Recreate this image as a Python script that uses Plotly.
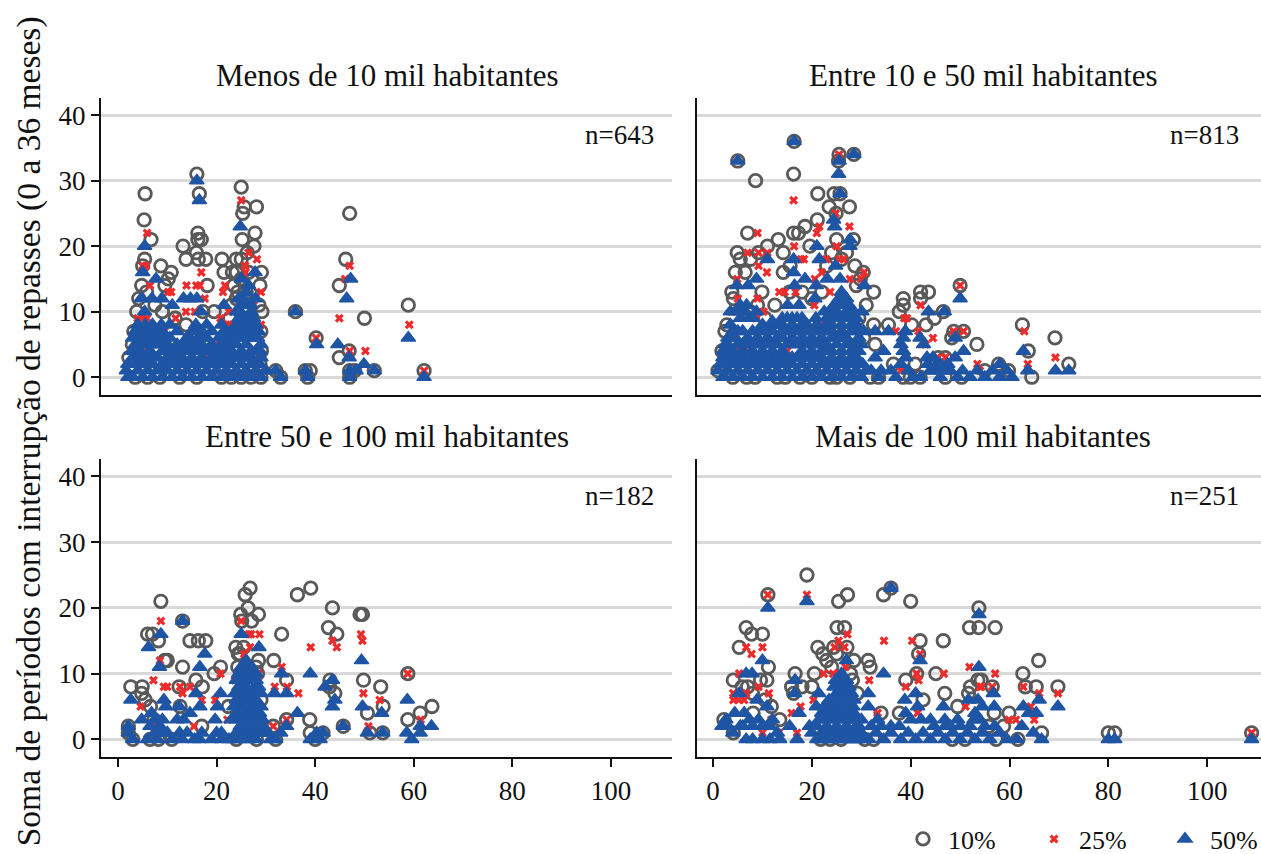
import plotly.graph_objects as go

SERIES = ["10%", "25%", "50%"]
PANEL_TITLES = ["Menos de 10 mil habitantes", "Entre 10 e 50 mil habitantes",
                "Entre 50 e 100 mil habitantes", "Mais de 100 mil habitantes"]
PANEL_N = ["n=643", "n=813", "n=182", "n=251"]
X_TICKS = [0, 20, 40, 60, 80, 100]
Y_TICKS = [0, 10, 20, 30, 40]

# Panel A: under 10 thousand
a10 = [(16,31),(16.5,28),(25,29),(28.1,26),(25.6,26),(25.3,25),(5.5,28),(5.3,24),(6.7,21),(16.2,22),(16.2,21),(16.9,21),
       (13.2,20),(13.8,18),(15.9,19),(16.3,18),(17.8,18),(8.7,17),(10.8,16),(10.2,15),(9.5,14),(18.1,14),(21.1,18),(21.5,16),
       (23.2,16),(24,16),(24,18),(25,18),(25.2,21),(27.8,22),(27.6,20),(26.2,19),(29.1,16),(28.8,14),(5.4,18),(5,17),(4.8,14),
       (4.2,12),(3.8,10),(3.2,7),(2.9,5),(2.2,3),(36,10),(40.2,6),(44.9,3),(46.9,4),(46.2,18),(44.9,14),(47,25),(50,9),(58.9,11),
       (62.1,1),(52,1),(48,1),(47,1),(47,0),(38,1),(39,1),(38.5,0),(32,1),(33,0),(5.8,13),(7.5,11),(9,10),(11.6,9),(13.8,8),
       (17.2,10),(19.5,10),(22.7,9),(24.3,13),(25,15),(26.5,16),(28.6,11),(29.2,10),(29,7),(29.1,4),(28.8,2),(3.5,0),(6,0),(8.5,0),
       (12.5,0),(16,0),(21,0),(23,0),(25,0),(27,0),(29,0),(24,12),(23.5,14),(23,11),(26,13)]
a25 = [(5.9,22),(25,27),(26.5,19),(25.8,17),(28.2,18),(25.9,16),(16.9,16),(13.9,14),(15.9,14),(16.6,14),(21.7,14),(21.3,13),
       (6.5,14),(5,17),(5.7,17),(10.8,13),(10.2,13),(17.6,12),(13.8,10),(11.7,9),(4,9),(5,9),(5.9,9),(20.8,9),(21.9,8),(22.4,8),
       (29,8),(29,13),(27.5,11),(22.5,10),(15.6,10),(8.7,7),(9.4,7),(19.8,5),(6.2,4),(47,17),(46.1,15),(44.9,9),(50.2,4),(47,4),
       (59.1,8),(62.1,1),(40.2,6),(12,2),(18,3),(14,6),(20.2,4)]
a50 = [(16,30),(16.5,27),(24.8,23),(5.4,20),(5,16),(7.7,15),(4.7,12),(6.9,12),(8.9,12),(11,11),(13.3,12),(14.7,12),(16,12),
       (25,15),(27.8,16),(26.5,14),(27.9,12),(21.5,11),(16.8,10),(5.4,10),(36,10),(46.4,12),(47.2,15),(44.6,5),(40.3,5),(58.9,6),
       (46.9,3),(49.9,2),(52,1),(48.3,1),(47,1),(47,0),(62.1,0),(38,1),(38.5,0),(32,1),(33,0),
       (4,8),(5.5,8),(7,8),(8.8,8),(10.5,8),(15.8,8),(18,8),(21,8),(24.5,12),(26,11),(24.8,10),(27,10),(25.5,9),(28,8),
       (3,6),(5,6),(7,6),(9.5,6),(12,7),(14,6),(16.3,6),(18,6),(20.5,6),(22,6),(24,8),(26,7),(28.3,6),
       (2.8,4),(4.5,4),(6.5,4),(8.2,5),(10,5),(12,5),(14,4),(16,4),(18,4),(20,4),(22,4),(24,5),(26,5),(28,4),(29,5),
       (2,2),(4,2),(6,2),(8,3),(10,3),(12,3),(14,2),(16,2),(18,2),(20,2),(22,2),(24,3),(26,3),(28,2),(29,3),
       (1.7,1),(3,0),(5,0),(7,0),(9,0),(11,0),(13,0),(15,0),(17,0),(19,0),(21,0),(23,0),(25,0),(27,0),(29,0),(30,1),(2,0),
       (3.5,7),(4.7,7),(6,7),(7.5,7),(9,7),(10.5,6),(15,7),(17,7),(19,7),(21.5,7),(23,7),(25,7),(27,7),(28.5,7),
       (3.5,5),(5.5,5),(7.5,5),(9,4),(11,4),(13,5),(15,5),(17,5),(19,5),(21,5),(23,5),(25,6),(27,6),(28.8,4),
       (3,3),(5,3),(7,3),(9,2),(11,2),(13,3),(15,3),(17,3),(19,3),(21,3),(23,3),(25,4),(27,4),(28.7,2),
       (4,1),(6,1),(8,1),(10,1),(12,1),(14,1),(16,1),(18,1),(20,1),(22,1),(24,1),(26,1),(28,1),
       (24,10),(25,11),(27,11),(25.5,12),(26,13),(24.5,9),(26.5,9),(27.5,9),
       (4.5,6),(6,6),(8,6),(8.5,5),(6.5,5),(4.5,5),(10,4),(12,4),(13,4),(15,4),(17,4),(19,4),(21,4),(23,4),(25,3),(27,3),
       (5,3.5),(3.8,2),(5,2),(7,2),(8.5,1.5),(10,2),(11,2.5),(13,2),(15,2),(17,2),(19,2),(21,2),(23,2),(25,2),(27,2),
       (14.5,6),(16,7),(17.5,6),(15,5.5),(24,6),(26,6),(28,6),(24,7),(26,8),(28,7),(25,8),(27,8),(23,6),(22,5),(22,3),(20,3)]

# Panel B: 10 to 50 thousand
b10 = [(5,33),(16.4,36),(8.6,30),(16.3,31),(25.5,34),(25.4,33),(28.5,34),(21.2,28),(24.5,28),(25.7,28),(23.5,26),(27.6,26),
       (24.9,25),(21.1,24),(18.6,23),(7,22),(16.3,22),(17.3,22),(13.2,21),(11,20),(4.9,19),(5.5,18),(9.2,19),(7.6,18),(14.2,19),
       (4.5,16),(6.5,16),(14.2,16),(15.6,17),(19.6,20),(25,21),(28.4,21),(30.4,16),(32.5,13),(3.8,13),(9.9,13),(4.1,12),(38.5,12),
       (38.5,11),(42,13),(43.6,13),(42,12),(37.7,10),(46.6,10),(44.8,9),(43.1,8),(40.2,8),(50,14),(32.5,8),(35.5,8),(48.7,7),(50.7,7),
       (48.3,6),(53.4,5),(32.8,5),(62.6,8),(63.8,4),(69.2,6),(72,2),(64.5,0),(57.8,2),(59.8,1),(55,1),(2.8,8),(2.4,7),(1.8,4),(1,1),
       (40.9,2),(36.5,2),(45.6,3),(47,3),(4,0),(6.8,0),(8.5,0),(13,0),(14.6,0),(17.6,0),(20,0),(23.7,0),(25,0),(27.7,0),(31.8,0),
       (33.5,0),(38.5,0),(39.9,0),(41.9,0),(47,0),(50.3,0),(24,19),(27,19),(26,18),(28.7,17),(23,17),(18,13),(20,12),(31,11),(29.5,9),
       (30.5,6),(7.5,10),(10.5,9),(12.5,11),(15.5,13),(9,11),(10,6),(22,13),(29,14),(29.8,15)]
b25 = [(25.5,34),(25.5,31),(16.3,27),(24.8,25),(27.6,23),(21.5,23),(21,22),(9,22),(16.4,20),(7,19),(9.2,19),(11,19),(25,20),
       (18.4,18),(17.8,18),(22.9,18),(25.6,18),(26.4,18),(9.2,17),(10.9,16),(22,16),(30.6,16),(4.9,15),(20.6,15),(27.7,15),(30,15),
       (13.4,13),(14.5,13),(16.7,13),(9,12),(23.7,13),(3.7,10),(5,12),(20.5,11),(8.7,9),(10.2,10),(38.7,9),(39.2,9),(42,11),(37,7),
       (44.5,6),(41.6,7),(43,5),(50,14),(48.7,7),(50.7,7),(53.5,2),(54,1),(63,7),(63.7,2),(69.3,3),(28,5),(5.5,4),(7,4),(12,5),(11,5),
       (15,4),(22.5,8),(38,1),(47,3),(45.5,3)]
b50 = [(5,33),(16.4,36),(28.5,34),(25.5,33),(25.4,31),(25.7,28),(24.4,24),(24.6,23),(21,20),(27.7,21),(27.7,20),(11,18),(16.3,18),
       (21.5,18),(24.8,17),(16.3,16),(8.8,15),(4.8,14),(7.1,14),(18.6,15),(20.9,14),(23.1,15),(25.7,15),(16.5,14),(30.6,14),(20.6,12),
       (26,13),(15.1,11),(17.4,11),(5.5,11),(6.8,11),(8.8,10),(30.1,10),(43.6,10),(46.8,10),(50,12),(38.9,7),(41.9,6),(49,6),(32.8,7),
       (35.5,7),(38.5,6),(38.5,4),(42.6,5),(32.8,3),(34.5,4),(50.7,4),(49,3),(43.3,3),(62.8,4),(63.7,1),(69.3,1),(72,1),(58,2),
       (3.5,8),(5.5,9),(7.5,9),(10,8),(12,8),(14,9),(16,9),(18,9),(20.8,9),(22.5,10),(24.5,11),(26,11),(27.5,11),(29,9),
       (3,6),(5,7),(7,6),(9,6),(11,6),(13,6),(15,7),(17,7),(19,7),(21,7),(23,7),(25,9),(27,9),(29,7),(30.5,7),
       (2,4),(4,4),(6,4),(8,4),(10,4),(12,4),(14,4),(16,5),(18,5),(20,5),(22,5),(24,7),(26,7),(28,5),(30,5),
       (1.5,2),(3,2),(5,2),(7,2),(9,2),(11,2),(13,2),(15,2),(17,3),(19,3),(21,3),(23,4),(25,5),(27,5),(29,3),(30.3,2),
       (1,1),(2,0),(4,0),(6,0),(8,0),(10,0),(12,0),(14,0),(16,0),(18,0),(20,0),(22,0),(24,2),(26,2),(28,2),(24,0),(26,0),(28,0),(30,0),
       (32,1),(33.5,0),(36,1),(38,2),(39.5,1),(42,0),(43.5,2),(44.5,3),(45.5,2),(46.5,1),(48,1),(49.5,0),(50.5,1),(52,0),(53.5,1),
       (55,0),(56.5,1),(58,0),(59.5,1),(60.5,0),(37,0),(40.5,0),(46,0),(47.5,2),
       (3.5,10),(5,10),(6.5,10),(8,9),(9.5,7),(11.5,7),(13.5,8),(15,9),(17,9),(19,8),(21,8),(23,8),(24,10),(25.5,12),(27,12),(28.5,10),
       (2.5,5),(4.5,6),(6,5),(8,5),(10,5),(12,5),(14,6),(16,6),(18,6),(20,6),(22,6),(24,6),(26,6),(28,7),(29.5,6),
       (2,3),(4,3),(6,3),(8,3),(10,3),(12,3),(14,3),(16,3),(18,4),(20,4),(22,4),(24,4),(26,4),(28,4),(29.5,4),
       (3,1),(5,1),(7,1),(9,1),(11,1),(13,1),(15,1),(17,1),(19,1),(21,1),(23,1),(25,1),(27,1),(29,1),(31,1),(34,1),(44,1),(45,1),(47.5,1),
       (4,7),(6,7),(8,7),(10,7),(12,7),(14,7),(16,7),(18,7),(20,7),(22,7),(24,8),(26,8),(28,8),(25,10),(27,10),(26,9),(28,9),
       (3,5),(5,5),(7,5),(9,5),(11,5),(13,5),(15,5),(17,5),(19,5),(21,5),(23,5),(25,6),(27,6),(29,5),
       (3,3.5),(5,3),(7,3),(9,3),(11,3),(13,3),(15,3),(18,3),(20,3),(22,3),(24,3),(26,3),(28,3),
       (4,2),(6,2),(8,2),(10,2),(12,2),(14,2),(16,2),(18,2),(20,2),(22,2),(23,2),(25,2),(27,2),(29,2),
       (16,8),(14,8),(12,8.5),(18,8),(24,9),(23,9),(29,8),(44.5,1),(46,2),(39,3),(38,5)]

# Panel C: 50 to 100 thousand
c10 = [(8.7,21),(26.8,23),(25.8,22),(36.4,22),(39.1,23),(26.4,20),(43.5,20),(28.5,19),(24.9,19),(49.1,19),(49.6,19),(25.1,18),
       (27.1,18),(13.1,18),(42.7,17),(44.4,16),(33.2,16),(6,16),(7,16),(14.6,15),(16.3,15),(17.8,15),(8.2,15),(23.9,14),(24.4,13),
       (24.7,13),(28.5,12),(9.5,12),(10,12),(31.6,12),(13.1,11),(20.8,11),(19.5,10),(58.8,10),(49.8,9),(15.8,9),(2.6,8),(4.9,8),
       (17.1,8),(12.4,8),(4.8,7),(34.2,9),(53.3,8),(53.8,5),(63.7,5),(44,7),(42.9,8),(38.9,3),(58.8,3),(61.3,4),(50.6,4),(34.2,3),
       (22.4,5),(6.6,5),(12.6,5),(2.1,2),(2.1,1),(45.7,2),(17,2),(31.5,2),(3,0),(6.5,0),(8.2,0),(10.9,0),(24,0),(28.1,0),(39,1),
       (41.6,1),(51.1,1),(53.7,1),(43,9),(28,11),(28.3,10),(29,6),(25.5,14),(24.3,11),(7.3,3),(5.5,6),(40,0),(32,0)]
c25 = [(8.7,18),(25,18),(26.6,16),(28.7,16),(27,16),(26.8,14),(25.6,13),(33.2,11),(20.8,10),(28.5,10),(7.2,9),(23.7,9),(9.3,8),
       (10,8),(12.6,8),(13.1,7),(14.6,8),(25,8),(31.8,8),(34.3,8),(36.6,7),(39.1,14),(43.5,15),(44.4,14),(49.3,16),(49.6,15),(49.8,7),
       (53.1,6),(58.8,10),(61.4,3),(50.8,2),(4.6,5),(17,6),(19.7,6),(8.5,12),(22.2,3),(31.5,2),(34.2,3),(7,2),(15.4,2),(28.4,3),(29,1)]
c50 = [(13.1,18),(8.7,16),(25,16),(6.2,14),(17.6,13),(28.6,14),(49.4,12),(8.4,11),(16.6,11),(26,12),(33.2,10),(39,10),(43.5,9),
       (42,8),(2.6,6),(20.8,7),(31.7,7),(34.2,7),(15.8,7),(9.3,6),(9.7,5),(12.4,5),(16.6,5),(20.2,5),(44,6),(43.5,5),(49.6,5),(58.7,6),
       (53.5,4),(36.4,4),(14.6,4),(6.8,4),(4.8,3),(12,3),(13.3,3),(19.7,3),(34.2,2),(45.7,2),(63.6,2),(61.3,2),(61.3,1),(2.1,2),(2.1,1),
       (58.6,1),(50.6,1),(53.7,1),(59.6,0),(39,0),(41,0),(40.3,1),(41.6,1),
       (25.5,10),(27,10),(24.5,8),(26,8),(27.7,8),(29,7),(23.7,7),(25,6),(26.5,6),(28,6),(24.2,4),(25.8,4),(27.2,4),(28.7,4),
       (23,3),(24.8,2),(26.3,2),(27.8,2),(29.3,2),(3,0),(6,0),(7.5,1),(8.5,2),(9,3),(8,0),(10,1),(11,0),(12.5,1),(14,1),(15.5,0),
       (16.5,0),(17,1),(20,1),(21,0),(22.5,0),(23.5,0),(25,0),(26.5,0),(28,0),(29.3,1),(31,0),(32,0),(33,1),(30.5,1),
       (26,11),(25,9),(26.5,9),(28,9),(24.5,7),(26,7),(27.5,7),(24.5,5),(26,5),(27.5,5),(24,3),(25.5,3),(27,3),(28.5,3),(24,1),(25.5,1),(27,1),(28.5,1),
       (25,11),(27,11),(24.5,10),(28,10),(24,9),(28.5,8),(24,6),(29,5),(23.5,5),(29.3,3),(21,1),(19,0),(13,0),(6.5,2),(7.5,3),(9,1)]

# Panel D: over 100 thousand
d10 = [(19,25),(11.1,22),(27.2,22),(25.4,21),(34.5,22),(36,23),(40,21),(53.8,20),(51.9,17),(53.8,17),(57.1,17),(25.1,17),(26.6,17),
       (6.7,17),(7.8,16),(10,16),(5.3,14),(21.2,14),(46.6,15),(41.9,15),(41.6,13),(22.2,13),(24.4,14),(27.1,14),(28.5,12),(31.4,12),
       (31.8,11),(11.2,11),(65.9,12),(16.6,10),(20.5,10),(45.1,10),(41.2,10),(62.7,10),(4.1,9),(10.9,9),(9.6,9),(39,9),(53.6,9),(54.3,9),
       (28.2,9),(69.8,8),(65.4,8),(63.2,8),(56.5,8),(52.1,8),(15.9,8),(20,8),(5.9,8),(46.9,7),(16.3,7),(29.2,7),(42.5,6),(51.7,7),(49.5,5),
       (56.9,4),(59.9,4),(66.5,1),(80,1),(81.3,1),(109,1),(13.5,3),(2.2,3),(11.8,5),(8.1,4),(4.1,1),(34,4),(37.7,4),(55.8,2),(30.7,0),(32.5,0),
       (21.8,0),(23.7,0),(25.9,0),(48.4,0),(51,0),(57.3,0),(61.7,0),(58.8,2),(23,12),(24,11),(25,13),(27.8,10),(7,8),(8,7),(10.5,6),(18,8)]
d25 = [(11.1,22),(19,22),(34.6,15),(40.3,15),(27.2,16),(25.4,15),(24.6,14),(26.6,14),(6.7,14),(10,14),(7.8,13),(41.9,13),(51.9,11),
       (57.1,10),(46.7,10),(41.2,10),(41.6,9),(39,8),(31.6,9),(26.8,11),(22.4,10),(5.3,10),(62.8,8),(54,8),(54.3,8),(56.5,8),(9.2,8),
       (69.8,7),(66,7),(11.3,7),(4.1,6),(5.2,6),(6.3,6),(4.1,7),(6.7,7),(20.3,6),(17.7,5),(15.9,4),(11.8,3),(27.7,7),(29.2,2),(41.4,4),
       (51.1,5),(59.9,3),(61.3,3),(65,3),(64.3,5),(109,1),(13.3,1),(17,1),(33.3,4),(10,1),(24.3,10),(25.6,10)]
d50 = [(36,23),(19,21),(11.1,20),(53.8,19),(27,12),(10,12),(41.9,12),(6.7,10),(7.9,10),(34.5,10),(53.8,11),(16.6,9),(24.8,9),(5.3,7),
       (16.5,7),(31.4,7),(56.7,7),(38.8,6),(41,7),(8.9,6),(21.4,7),(66,6),(69.8,5),(51.7,6),(53.6,6),(20.9,5),(31.4,5),(46.6,5),(56.9,5),
       (62.8,5),(41.4,5),(10.9,5),(4.4,4),(6.3,4),(17.4,4),(39,4),(63.9,4),(65.4,4),(2.6,3),(7.4,3),(9.2,3),(33.3,3),(42.1,3),(46.9,3),
       (49.5,3),(52.8,3),(15.5,2),(62.5,2),(11.5,2),(44.7,2),(37.7,2),(19.5,2),(64.8,1),(1.8,2),(80,0),(81.3,0),(109,0),(66.5,0),
       (26,10),(25,7),(26.5,7),(28,7),(23.8,5),(25.3,5),(26.8,5),(28.3,5),(22.5,3),(24,3),(25.5,3),(27,3),(28.5,3),(21,2),(23,1),(25,1),
       (27,1),(29,1),(6.7,0),(8,0),(10,0),(11.5,0),(13.5,0),(17,0),(20,1),(21,0),(23,0),(25,0),(27,0),(29,0),(31.5,0),(33,1),(34.5,0),(36,1),
       (38,0),(39.5,1),(41,0),(42.5,1),(44,0),(45.5,1),(47,0),(48.5,1),(50,0),(51.5,1),(53,0),(54.5,1),(56,0),(58,1),(59.5,0),(61.5,0),(4,1),
       (3,2),(5.5,2),(13,1),(47,2),(52,2),(54,3),
       (25.5,9),(27,9),(26,8),(24.5,6),(26,6),(27.5,6),(24,4),(25.5,4),(27,4),(28.5,4),(23,2),(25,2),(27,2),(29,2),(53,4),(54.5,5),
       (24.5,8),(27.5,8),(28.5,6),(23.5,6),(22,4),(29,3),(22,1),(24,0),(26,0),(28,0),(24,1),(26,1),(28,1),(30,1),
       (21.5,3),(22.5,5),(23,4),(29.5,2),(30,3),(20.5,2),(22,0),(30,0),(6,2),(8,2),(10,2),(12,3),(32,2),(34,2),(36,2),(40,3),(44,3),(48,2),(50,2),(55,2),(57,2)]

PANELS = [(a10, a25, a50), (b10, b25, b50), (c10, c25, c50), (d10, d25, d50)]

W, H = 1261, 854
PUSH = 39  # height the legend takes off the plotting area
HP = H - PUSH
def fy(py):
    return (HP - py) / HP

FONT = "Liberation Serif"
DOMX = [[101/W, 672/W], [697/W, 1261/W]]
DOMY = [[fy(395), fy(98)], [fy(757), fy(459)]]
XR = [[-3.45, 112.4], [-3.25, 110.9]]
YR = [-2.75, 42.6]
TCX = [387, 983]
TCY = [75, 436]
NX = [656, 1241]
NY = [135, 496]

STYLES = [
    dict(symbol="circle-open", size=12.5, color="#595959", line=dict(width=2.8, color="#595959")),
    dict(symbol="x", size=8, color="#ee2b2b", line=dict(width=0)),
    dict(symbol="triangle-up", size=12.5, color="#1f55a5", line=dict(width=1.5, color="#1f55a5")),
]

fig = go.Figure()
for p, series in enumerate(PANELS):
    ax = "" if p == 0 else str(p + 1)
    for s, pts in enumerate(series):
        fig.add_trace(go.Scatter(
            x=[q[0] for q in pts], y=[q[1] for q in pts], mode="markers",
            name=SERIES[s], legendgroup=SERIES[s], showlegend=(p == 0),
            marker=STYLES[s], cliponaxis=False, xaxis="x" + ax, yaxis="y" + ax))
    col, row = p % 2, p // 2
    xk = "xaxis" + ax
    yk = "yaxis" + ax
    fig.update_layout({
        xk: dict(domain=DOMX[col], range=XR[col], tickvals=X_TICKS if row == 1 else [], showgrid=False,
                 zeroline=False, showline=True, linecolor="#111", linewidth=2,
                 ticks="outside" if row == 1 else "", ticklen=8, tickwidth=1.5, tickcolor="#111",
                 showticklabels=row == 1, anchor="y" + ax, tickfont=dict(family=FONT, size=27, color="#111")),
        yk: dict(domain=DOMY[row], range=YR, tickvals=Y_TICKS, showgrid=True, gridcolor="#d9d9d9", gridwidth=2.5,
                 zeroline=False, showline=True, linecolor="#111", linewidth=2,
                 ticks="outside" if col == 0 else "", ticklen=8, tickwidth=1.5, tickcolor="#111",
                 showticklabels=col == 0, anchor="x" + ax, tickfont=dict(family=FONT, size=27, color="#111")),
    })

ann = []
for p in range(4):
    col, row = p % 2, p // 2
    ann.append(dict(text=PANEL_TITLES[p], x=TCX[col]/W, y=fy(TCY[row]), xref="paper", yref="paper",
                    showarrow=False, xanchor="center", yanchor="middle", font=dict(family=FONT, size=31, color="#111")))
    ann.append(dict(text=PANEL_N[p], x=NX[col]/W, y=fy(NY[row]), xref="paper", yref="paper",
                    showarrow=False, xanchor="right", yanchor="middle", font=dict(family=FONT, size=27, color="#111")))
ann.append(dict(text="Soma de períodos com interrupção de repasses (0 a 36 meses)", x=29/W, y=fy(431),
                xref="paper", yref="paper", showarrow=False, textangle=-90, xanchor="center", yanchor="middle",
                font=dict(family=FONT, size=33.5, color="#111")))

fig.update_layout(
    width=W, height=H, margin=dict(l=0, r=0, t=0, b=0), paper_bgcolor="white", plot_bgcolor="white",
    annotations=ann, font=dict(family=FONT, color="#111"),
    legend=dict(orientation="h", xref="container", yref="container", x=898/W, y=15/H, xanchor="left", yanchor="middle",
                entrywidth=76, entrywidthmode="pixels", itemwidth=40, font=dict(family=FONT, size=26, color="#111"),
                bgcolor="rgba(0,0,0,0)", traceorder="normal", itemclick=False),
)
fig.write_html("out.html", post_script="document.body.style.margin='0';", config=dict(displayModeBar=False))
